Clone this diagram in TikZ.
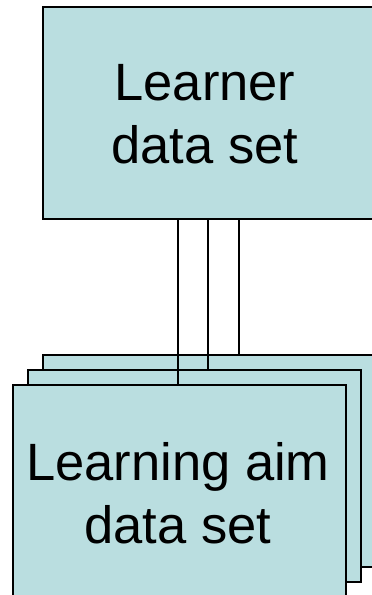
\documentclass[tikz,border=0pt]{standalone}
\usepackage{fontspec}
\setmainfont{Liberation Sans}
\definecolor{boxfill}{RGB}{186,222,224}
\begin{document}
\begin{tikzpicture}[x=1pt,y=-1pt,
  databox/.style={draw=black, line width=1.6pt, fill=boxfill, rectangle,
    minimum width=333pt, minimum height=212pt, inner sep=0pt, anchor=north west},
  lbl/.style={font=\fontsize{52.5}{63}\selectfont, align=center, inner sep=0pt},
  link/.style={draw=black, line width=1.3pt}]
\useasboundingbox (0,0) rectangle (372,595);
\clip (0,0) rectangle (372,595);
\node[databox] (learner) at (42,6) {};
\node[lbl] (learnertext) at (205,114) {Learner\\data set};
\node[databox] (aim3) at (42,354) {};
\node[databox] (aim2) at (27,369) {};
\node[databox] (aim1) at (12,384) {};
\node[lbl] (aimtext) at (178,493) {Learning aim\\data set};
\coordinate (c1) at (178,0);
\coordinate (c2) at (208,0);
\coordinate (c3) at (239,0);
\draw[link] (learner.south -| c1) -- (aim1.north -| c1);
\draw[link] (learner.south -| c2) -- (aim2.north -| c2);
\draw[link] (learner.south -| c3) -- (aim3.north -| c3);
\end{tikzpicture}
\end{document}
